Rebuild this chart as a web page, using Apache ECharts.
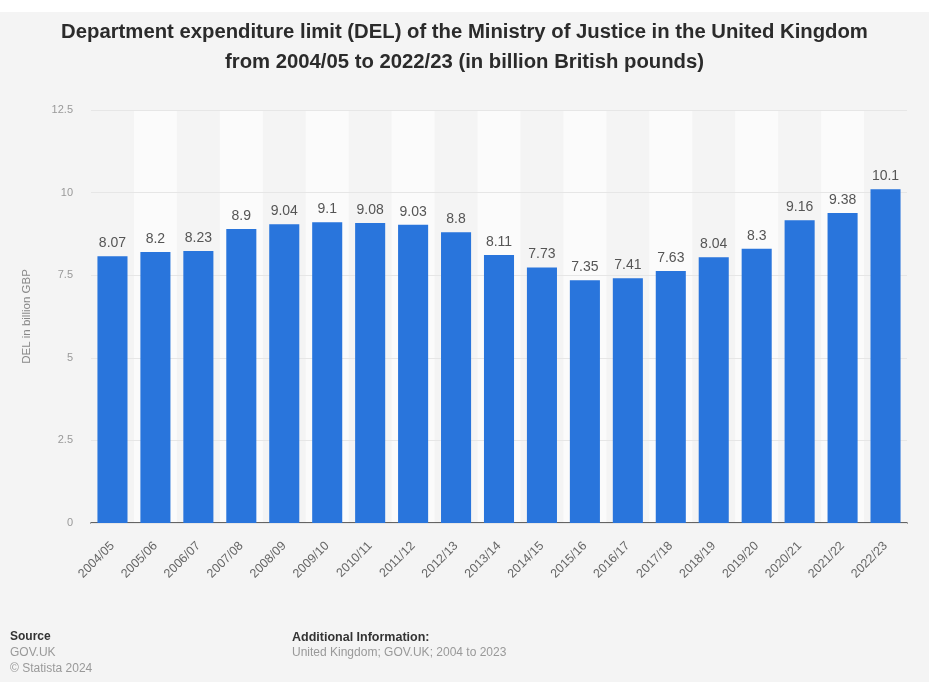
<!DOCTYPE html>
<html>
<head>
    <meta charset="utf-8">
    <title>DEL Ministry of Justice</title>
    <style>
        html, body { margin: 0; padding: 0; background: #f4f4f4; }
    </style>
</head>
<body>
    <div id="main" style="width: 929px;height:682px;"></div>
<script src="https://cdn.jsdelivr.net/npm/echarts@6/dist/echarts.min.js"></script>
<script>
// years and DEL values (billion GBP)
var years = ['2004/05', '2005/06', '2006/07', '2007/08', '2008/09', '2009/10', '2010/11', '2011/12', '2012/13', '2013/14',
    '2014/15', '2015/16', '2016/17', '2017/18', '2018/19', '2019/20', '2020/21', '2021/22', '2022/23'];
var delValues = [8.07, 8.2, 8.23, 8.9, 9.04, 9.1, 9.08, 9.03, 8.8, 8.11,
    7.73, 7.35, 7.41, 7.63, 8.04, 8.3, 9.16, 9.38, 10.1];
var yTicks = [0, 2.5, 5, 7.5, 10, 12.5];

var font = 'Liberation Sans, Arial, sans-serif';
var myChart = echarts.init(document.getElementById('main'));

myChart.setOption({
    backgroundColor: '#f4f4f4',
    textStyle: { fontFamily: font },
    title: {
        text: 'Department expenditure limit (DEL) of the Ministry of Justice in the United Kingdom\nfrom 2004/05 to 2022/23 (in billion British pounds)',
        left: 'center',
        top: 12,
        textStyle: {
            fontFamily: font,
            fontSize: 20.3,
            fontWeight: 'bold',
            color: '#2b2b2b',
            lineHeight: 30
        }
    },
    graphic: [
        { type: 'rect', left: 0, top: 0, shape: { width: 929, height: 12 }, style: { fill: '#fff' } },
        { type: 'text', left: 10, top: 631, style: { text: 'Source', font: 'bold 12px ' + font, fill: '#333' } },
        { type: 'text', left: 10, top: 647, style: { text: 'GOV.UK', font: '12px ' + font, fill: '#999' } },
        { type: 'text', left: 10, top: 663, style: { text: '© Statista 2024', font: '12px ' + font, fill: '#999' } },
        { type: 'text', left: 292, top: 631, style: { text: 'Additional Information:', font: 'bold 12.5px ' + font, fill: '#333' } },
        { type: 'text', left: 292, top: 647, style: { text: 'United Kingdom; GOV.UK; 2004 to 2023', font: '12px ' + font, fill: '#999' } }
    ],
    grid: {
        left: 91,
        right: 22,
        top: 110,
        bottom: 159
    },
    xAxis: {
        type: 'category',
        data: years,
        z: 0,
        axisLine: { lineStyle: { color: '#333', width: 1.5 } },
        axisTick: { show: false },
        axisLabel: {
            rotate: 45,
            color: '#666',
            fontSize: 12.5,
            margin: 21
        },
        splitArea: {
            show: true,
            areaStyle: { color: ['rgba(0,0,0,0)', '#fbfbfb'] }
        }
    },
    yAxis: {
        type: 'value',
        z: 2,
        min: yTicks[0],
        max: yTicks[yTicks.length - 1],
        interval: 2.5,
        name: 'DEL in billion GBP',
        nameLocation: 'middle',
        nameGap: 58,
        nameTextStyle: { color: '#888', fontSize: 11.5 },
        axisLine: { show: false },
        axisTick: { show: false },
        axisLabel: { color: '#999', fontSize: 11, margin: 18 },
        splitLine: { lineStyle: { color: '#e6e6e6', width: 1 } }
    },
    series: [{
        type: 'bar',
        z: 3,
        data: delValues,
        barWidth: '70%',
        itemStyle: { color: '#2975dc' },
        label: {
            show: true,
            position: 'top',
            color: '#555',
            fontSize: 14,
            distance: 6
        }
    }]
});
</script>
</body>
</html>
